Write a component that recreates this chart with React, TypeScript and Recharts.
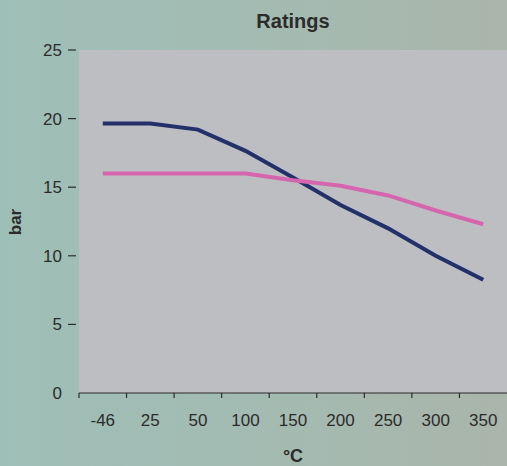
import { LineChart, Line, XAxis, YAxis, CartesianGrid } from 'recharts';

const categories = ['-46', '25', '50', '100', '150', '200', '250', '300', '350'];
const highSeries = [19.65, 19.65, 19.2, 17.65, 15.7, 13.7, 12.0, 10.0, 8.25];
const lowSeries = [16.0, 16.0, 16.0, 16.0, 15.5, 15.1, 14.4, 13.3, 12.3];
const yTicks = [0, 5, 10, 15, 20, 25];

const chartData = categories.map((c, i) => ({ temp: c, high: highSeries[i], low: lowSeries[i] }));

const W = 507;
const H = 466;
const LEFT = 79;
const TOP = 50;
const BOTTOM = 73;
const HALF_BAND = (W - LEFT) / categories.length / 2;
const FONT = '"Liberation Sans", Arial, sans-serif';
const TEXT = '#2b2b2b';

function YTick(props: any) {
  const { x, y, payload } = props;
  return (
    <g>
      {payload.value !== 0 && <line x1={x - 11} x2={x - 3} y1={y} y2={y} stroke={TEXT} strokeWidth={1.2} />}
      <text x={x - 17} y={y} dy={6} textAnchor="end" fontSize={17} fill={TEXT} fontFamily={FONT}>
        {payload.value}
      </text>
    </g>
  );
}

function XTick(props: any) {
  const { x, y, payload } = props;
  const bx = x - HALF_BAND;
  return (
    <g>
      <line x1={bx} x2={bx} y1={y} y2={y + 5} stroke={TEXT} strokeWidth={1.2} />
      <text x={x} y={y + 33} textAnchor="middle" fontSize={17} fill={TEXT} fontFamily={FONT}>
        {payload.value}
      </text>
    </g>
  );
}

export default function App() {
  return (
    <div
      style={{
        position: 'absolute',
        left: 0,
        top: 0,
        width: W,
        height: H,
        background: 'linear-gradient(to right, #9ebfb7 0%, #a3bbb2 50%, #aab5ab 100%)',
        fontFamily: FONT,
        overflow: 'hidden',
      }}
    >
      <div style={{ position: 'absolute', left: LEFT, width: W - LEFT, top: 10, textAlign: 'center', fontWeight: 'bold', fontSize: 20, color: TEXT }}>
        Ratings
      </div>
      <div style={{ position: 'absolute', left: LEFT, width: W - LEFT, top: 446, textAlign: 'center', fontWeight: 'bold', fontSize: 18, color: TEXT }}>
        °C
      </div>
      <div
        style={{
          position: 'absolute',
          left: 16,
          top: 222,
          transform: 'translate(-50%, -50%) rotate(-90deg)',
          fontWeight: 'bold',
          fontSize: 17,
          color: TEXT,
        }}
      >
        bar
      </div>
      <LineChart width={W} height={H} data={chartData} margin={{ top: TOP, right: 0, left: 0, bottom: 0 }}>
        <CartesianGrid fill="#bdbec2" stroke="none" horizontal={false} vertical={false} />
        <XAxis
          dataKey="temp"
          height={BOTTOM}
          padding={{ left: HALF_BAND, right: HALF_BAND }}
          axisLine={{ stroke: TEXT, strokeWidth: 1.2 }}
          tickLine={false}
          tickSize={0}
          tickMargin={0}
          interval={0}
          tick={<XTick />}
        />
        <YAxis
          width={LEFT}
          domain={[0, 25]}
          ticks={yTicks}
          axisLine={false}
          tickLine={false}
          tickSize={0}
          tickMargin={0}
          tick={<YTick />}
        />
        <Line type="linear" dataKey="high" stroke="#24306a" strokeWidth={4} dot={false} isAnimationActive={false} />
        <Line type="linear" dataKey="low" stroke="#d566ae" strokeWidth={4} dot={false} isAnimationActive={false} />
      </LineChart>
    </div>
  );
}
